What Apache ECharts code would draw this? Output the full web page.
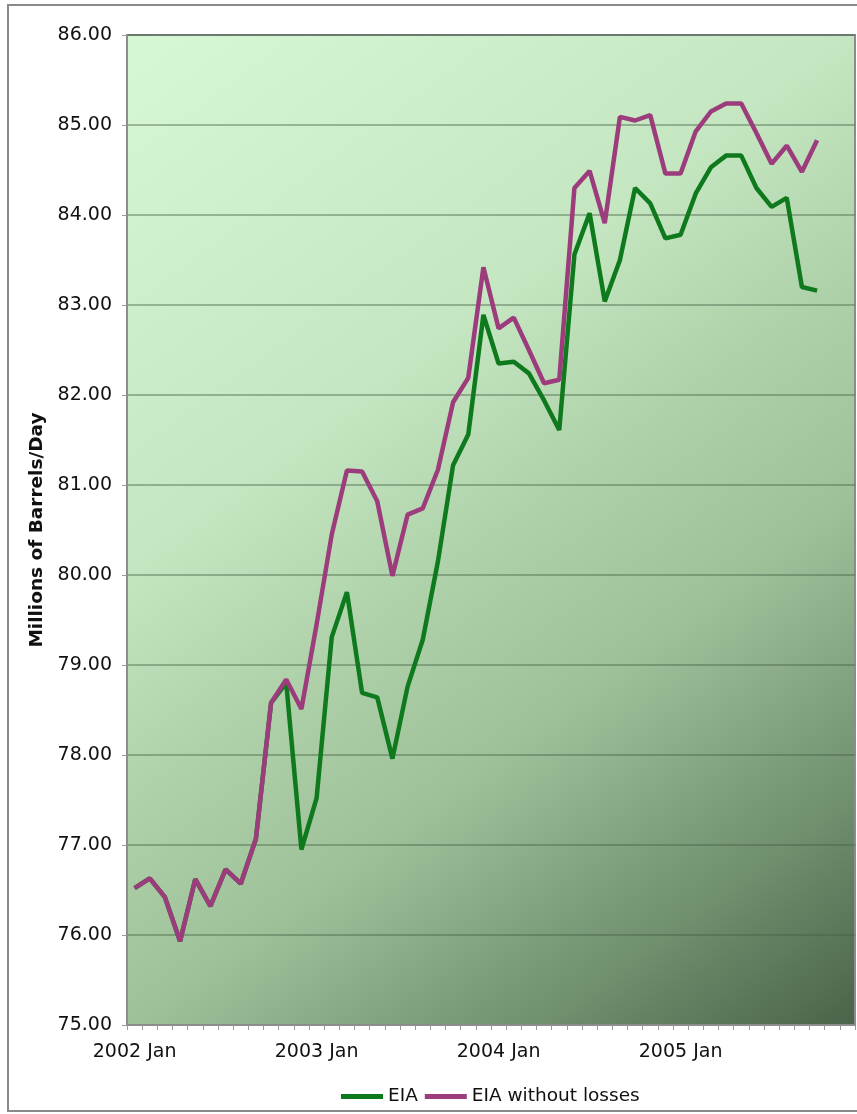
<!DOCTYPE html>
<html>
<head>
<meta charset="utf-8">
<script src="https://cdn.jsdelivr.net/npm/echarts@6/dist/echarts.min.js"></script>
<style>
  html, body { margin: 0; padding: 0; background: #ffffff; }
  #chart { width: 857px; height: 1114px; }
</style>
</head>
<body>
<div id="chart"></div>
<script>
// Monthly world oil supply, Jan 2002 - Dec 2005 (data through Oct 2005)
const months = ['Jan', 'Feb', 'Mar', 'Apr', 'May', 'Jun', 'Jul', 'Aug', 'Sep', 'Oct', 'Nov', 'Dec'];
const years = [2002, 2003, 2004, 2005];
const categories = [];
years.forEach(y => months.forEach(m => categories.push(y + ' ' + m)));

// Millions of barrels per day
const eia = [
  76.52, 76.63, 76.42, 75.93, 76.62, 76.32, 76.73, 76.57, 77.07, 78.58,
  78.80, 76.95, 77.52, 79.31, 79.81, 78.69, 78.64, 77.96, 78.76, 79.28,
  80.15, 81.22, 81.56, 82.89, 82.35, 82.37, 82.24, 81.94, 81.61, 83.56,
  84.02, 83.04, 83.50, 84.30, 84.13, 83.74, 83.78, 84.24, 84.53, 84.66,
  84.66, 84.30, 84.09, 84.19, 83.20, 83.16
];
const eiaWithoutLosses = [
  76.52, 76.63, 76.42, 75.93, 76.62, 76.32, 76.73, 76.57, 77.07, 78.58,
  78.84, 78.51, 79.45, 80.45, 81.16, 81.15, 80.82, 79.99, 80.67, 80.74,
  81.17, 81.92, 82.19, 83.42, 82.74, 82.86, 82.50, 82.13, 82.17, 84.30,
  84.49, 83.91, 85.09, 85.05, 85.11, 84.46, 84.46, 84.93, 85.15, 85.24,
  85.24, 84.91, 84.57, 84.77, 84.48, 84.83
];

const yMin = 75, yMax = 86, yStep = 1;
const FONT = '"DejaVu Sans", Verdana, sans-serif';

const chart = echarts.init(document.getElementById('chart'), null, { renderer: 'canvas' });

chart.setOption({
  backgroundColor: '#ffffff',
  animation: false,
  graphic: [{
    type: 'rect',
    shape: { x: 8, y: 5, width: 870, height: 1106 },
    style: { fill: 'none', stroke: '#8a8a8a', lineWidth: 2 },
    silent: true,
    z: -1
  }],
  grid: {
    left: 127, top: 35, right: 2, bottom: 89,
    show: true,
    borderColor: '#8c8c8c',
    borderWidth: 2,
    // diagonal wash: pale mint in the upper left, deep green in the lower right
    backgroundColor: {
      type: 'linear', x: 0, y: 0, x2: 1, y2: 1,
      colorStops: [
        { offset: 0, color: '#d8f8d5' },
        { offset: 0.35, color: '#c4e6c0' },
        { offset: 0.5, color: '#b0d2ab' },
        { offset: 0.65, color: '#9fc19a' },
        { offset: 0.85, color: '#6f8f6d' },
        { offset: 1, color: '#4a634a' }
      ]
    }
  },
  legend: {
    left: 336, top: 1082,
    itemWidth: 42, itemHeight: 5, itemGap: 7,
    icon: 'rect',
    textStyle: { fontFamily: FONT, fontSize: 18.5, color: '#111' },
    data: ['EIA', 'EIA without losses']
  },
  xAxis: {
    type: 'category',
    data: categories,
    boundaryGap: true,
    axisLine: { lineStyle: { color: '#8c8c8c', width: 2 } },
    axisTick: { show: true, interval: 0, length: 5, lineStyle: { color: '#9a9a9a', width: 1 } },
    axisLabel: {
      interval: 11, margin: 18,
      fontFamily: FONT, fontSize: 19, color: '#111'
    },
    splitLine: { show: false }
  },
  yAxis: {
    type: 'value',
    min: yMin, max: yMax, interval: yStep,
    name: 'Millions of Barrels/Day',
    nameLocation: 'middle',
    nameRotate: 90,
    nameGap: 79,
    nameTextStyle: { fontFamily: FONT, fontSize: 18.5, fontWeight: 'bold', color: '#111' },
    axisLine: { show: true, lineStyle: { color: '#8c8c8c', width: 2 } },
    axisTick: { show: true, length: 5, lineStyle: { color: '#9a9a9a', width: 1 } },
    axisLabel: {
      margin: 15,
      fontFamily: FONT, fontSize: 19, color: '#111',
      formatter: v => v.toFixed(2)
    },
    splitLine: { show: true, lineStyle: { color: 'rgba(70,95,70,0.55)', width: 1.5 } }
  },
  series: [
    {
      name: 'EIA',
      type: 'line',
      data: eia,
      showSymbol: false,
      symbol: 'none',
      lineStyle: { color: '#0f7a1d', width: 4.5 },
      itemStyle: { color: '#0f7a1d' },
      z: 2
    },
    {
      name: 'EIA without losses',
      type: 'line',
      data: eiaWithoutLosses,
      showSymbol: false,
      symbol: 'none',
      lineStyle: { color: '#9c3c7d', width: 4.5 },
      itemStyle: { color: '#9c3c7d' },
      z: 3
    }
  ]
});
</script>
</body>
</html>
